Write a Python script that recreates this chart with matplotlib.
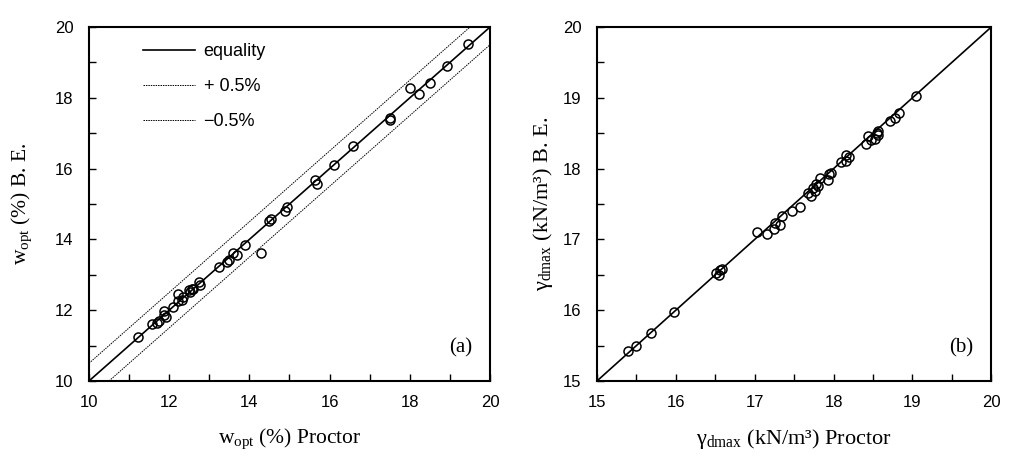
import matplotlib
matplotlib.use("Agg")
import matplotlib.pyplot as plt
import numpy as np

plt.rcParams['mathtext.fontset'] = 'custom'
plt.rcParams['mathtext.rm'] = 'Liberation Serif'
plt.rcParams['mathtext.it'] = 'Liberation Serif:italic'

# Panel (a): optimum water content (%)
w_proctor = [11.23, 11.56, 11.69, 11.75, 11.88, 11.88, 11.91, 12.09, 12.23, 12.21,
             12.31, 12.35, 12.49, 12.56, 12.52, 12.60, 12.74, 12.78, 13.24, 13.43,
             13.49, 13.58, 13.70, 13.88, 14.29, 14.48, 14.53, 14.89, 14.95, 15.64,
             15.69, 16.11, 16.59, 17.50, 17.50, 18.00, 18.22, 18.51, 18.94, 19.46]
w_be = [11.23, 11.61, 11.65, 11.70, 11.98, 11.87, 11.81, 12.08, 12.47, 12.25,
        12.29, 12.38, 12.57, 12.60, 12.50, 12.60, 12.80, 12.72, 13.23, 13.35,
        13.42, 13.62, 13.57, 13.84, 13.62, 14.51, 14.57, 14.79, 14.91, 15.69,
        15.57, 16.09, 16.63, 17.43, 17.38, 18.28, 18.12, 18.43, 18.89, 19.53]

# Panel (b): maximum dry unit weight (kN/m3)
g_proctor = [15.39, 15.49, 15.68, 15.98, 16.51, 16.55, 16.56, 16.59, 17.03, 17.16,
             17.24, 17.26, 17.32, 17.35, 17.47, 17.57, 17.68, 17.71, 17.74, 17.77,
             17.78, 17.80, 17.83, 17.93, 17.94, 17.97, 18.10, 18.16, 18.16, 18.19,
             18.41, 18.44, 18.48, 18.52, 18.55, 18.57, 18.57, 18.71, 18.78, 18.83,
             19.04]
g_be = [15.43, 15.49, 15.68, 15.98, 16.53, 16.50, 16.57, 16.58, 17.11, 17.07,
        17.15, 17.23, 17.20, 17.33, 17.40, 17.46, 17.65, 17.62, 17.72, 17.68,
        17.78, 17.76, 17.87, 17.84, 17.92, 17.94, 18.10, 18.19, 18.11, 18.16,
        18.35, 18.46, 18.41, 18.42, 18.50, 18.53, 18.47, 18.68, 18.72, 18.79,
        19.03]

w_lim = [10, 20]
g_lim = [15, 20]
band = 0.5

serif = 'Liberation Serif'
sans = 'Liberation Sans'

fig = plt.figure(figsize=(10.24, 4.59), dpi=100)
axa = fig.add_axes([0.0869, 0.170, 0.3916, 0.771])
axb = fig.add_axes([0.583, 0.170, 0.385, 0.771])

def style(ax, lim, major, minor):
    ax.set_xlim(lim)
    ax.set_ylim(lim)
    ax.set_xticks(np.arange(lim[0], lim[1] + 0.001, major))
    ax.set_yticks(np.arange(lim[0], lim[1] + 0.001, major))
    ax.set_xticks(np.arange(lim[0], lim[1] + 0.001, minor), minor=True)
    ax.set_yticks(np.arange(lim[0], lim[1] + 0.001, minor), minor=True)
    ax.tick_params(which='both', direction='in', length=5, width=1.0, labelsize=12)
    ax.tick_params(axis='x', pad=10)
    ax.tick_params(axis='y', pad=11)
    for lab in ax.get_xticklabels() + ax.get_yticklabels():
        lab.set_fontfamily(sans)
    for s in ax.spines.values():
        s.set_linewidth(1.5)

# Panel (a)
xx = np.array(w_lim, dtype=float)
axa.plot(xx, xx, color='black', lw=1.2, label='equality')
axa.plot(xx, xx + band, color='black', lw=0.7, ls=(0, (1.5, 1.0)), label='+ 0.5%')
axa.plot(xx, xx - band, color='black', lw=0.7, ls=(0, (1.5, 1.0)), label='\u22120.5%')
axa.plot(w_proctor, w_be, ls='none', marker='o', ms=6.5, mfc='none', mec='black', mew=1.1)
style(axa, w_lim, 2, 1)
axa.set_xlabel(r'w$_{\rm opt}$ (%) Proctor', fontfamily=serif, fontsize=15.5, labelpad=12)
axa.set_ylabel(r'w$_{\rm opt}$ (%) B. E.', fontfamily=serif, fontsize=15.5, labelpad=15)
axa.text(0.955, 0.065, '(a)', transform=axa.transAxes, ha='right', va='bottom',
         fontfamily=serif, fontsize=15)
leg = axa.legend(loc='upper left', bbox_to_anchor=(0.135, 0.955), frameon=False,
                 prop={'family': sans, 'size': 13}, handlelength=2.9,
                 handletextpad=0.45, labelspacing=1.0, borderpad=0, borderaxespad=0)

# Panel (b)
gg = np.array(g_lim, dtype=float)
axb.plot(gg, gg, color='black', lw=1.2)
axb.plot(g_proctor, g_be, ls='none', marker='o', ms=6.5, mfc='none', mec='black', mew=1.1)
style(axb, g_lim, 1, 0.5)
axb.set_xlabel('\u03b3$_{\\rm dmax}$ (kN/m\u00b3) Proctor', fontfamily=serif, fontsize=16, labelpad=12)
axb.set_ylabel('\u03b3$_{\\rm dmax}$ (kN/m\u00b3) B. E.', fontfamily=serif, fontsize=16, labelpad=6)
axb.text(0.955, 0.065, '(b)', transform=axb.transAxes, ha='right', va='bottom',
         fontfamily=serif, fontsize=15)

fig.savefig('out.png', dpi=100)
